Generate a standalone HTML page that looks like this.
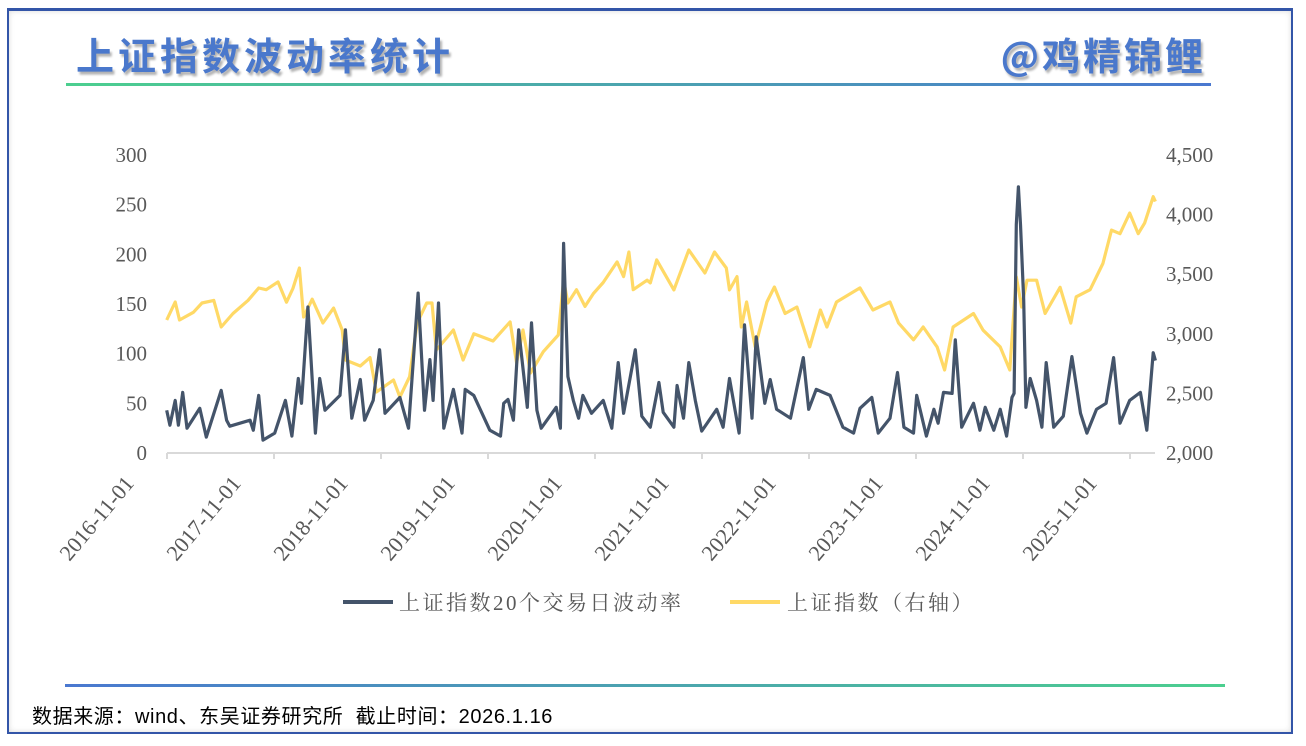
<!DOCTYPE html>
<html><head><meta charset="utf-8">
<style>
body{margin:0;width:1306px;height:746px;background:#fff;overflow:hidden;font-family:"Liberation Sans","Noto Sans CJK SC",sans-serif;}
#frame{position:absolute;left:7px;top:8px;width:1282px;height:721px;border:2px solid #3355a8;border-top-width:3px;box-shadow:0 0 6px rgba(0,0,0,.15) inset;}
#title{position:absolute;left:76px;top:26px;font:bold 38px "Noto Sans CJK SC",sans-serif;color:#4a78cc;letter-spacing:4px;text-shadow:2px 3px 2px rgba(0,0,0,.3);}
#brand{position:absolute;right:100px;top:26px;font:bold 38px "Noto Sans CJK SC",sans-serif;color:#4a78cc;letter-spacing:3px;text-shadow:2px 3px 2px rgba(0,0,0,.3);}
#topline{position:absolute;left:66px;top:83px;width:1145px;height:3px;background:linear-gradient(90deg,#4ccf8f,#4a78d0);}
#botline{position:absolute;left:65px;top:684px;width:1160px;height:3px;background:linear-gradient(90deg,#4a78d0,#4ccf8f);}
#source{position:absolute;left:32px;top:700px;font-size:20px;letter-spacing:0.6px;color:#000;font-family:"Liberation Sans","Noto Sans CJK SC",sans-serif;}
svg{position:absolute;left:0;top:0;}
</style></head><body>
<div id="frame"></div>
<div id="title">上证指数波动率统计</div>
<div id="brand">@鸡精锦鲤</div>
<div id="topline"></div>
<div id="botline"></div>
<div id="source">数据来源：wind、东吴证券研究所&nbsp; 截止时间：2026.1.16</div>
<svg id="chart" width="1306" height="746"></svg>
<script>
const volT=[2016.83,2016.86,2016.91,2016.94,2016.98,2017.02,2017.14,2017.20,2017.34,2017.39,2017.42,2017.61,2017.64,2017.69,2017.73,2017.84,2017.94,2018.00,2018.06,2018.09,2018.15,2018.22,2018.26,2018.31,2018.45,2018.50,2018.56,2018.64,2018.68,2018.76,2018.82,2018.87,2019.01,2019.09,2019.18,2019.24,2019.29,2019.32,2019.37,2019.42,2019.51,2019.59,2019.62,2019.70,2019.85,2019.95,2019.98,2020.02,2020.07,2020.12,2020.20,2020.24,2020.29,2020.33,2020.47,2020.51,2020.54,2020.58,2020.63,2020.68,2020.72,2020.80,2020.91,2020.99,2021.05,2021.10,2021.21,2021.27,2021.35,2021.43,2021.47,2021.57,2021.60,2021.66,2021.71,2021.77,2021.83,2021.97,2022.03,2022.09,2022.18,2022.23,2022.30,2022.34,2022.42,2022.47,2022.53,2022.66,2022.78,2022.83,2022.90,2023.03,2023.15,2023.25,2023.31,2023.42,2023.48,2023.59,2023.66,2023.72,2023.81,2023.84,2023.93,2024.00,2024.04,2024.09,2024.17,2024.20,2024.26,2024.37,2024.43,2024.48,2024.56,2024.62,2024.68,2024.73,2024.75,2024.77,2024.79,2024.81,2024.84,2024.86,2024.90,2024.96,2025.01,2025.05,2025.12,2025.21,2025.29,2025.37,2025.43,2025.52,2025.61,2025.68,2025.74,2025.83,2025.93,2025.99,2026.05,2026.07];
const volV=[43,28,53,28,61,25,45,16,63,33,27,33,23,58,13,20,53,17,75,50,147,20,75,43,58,124,35,74,33,53,104,40,56,25,161,43,94,53,151,25,64,20,64,58,23,17,50,54,33,124,46,131,43,25,46,25,211,77,53,35,58,40,53,25,91,40,104,37,26,71,41,26,68,35,91,53,22,44,26,75,20,129,35,117,50,74,44,35,96,44,64,58,26,20,45,56,20,35,81,26,20,58,17,44,30,61,60,114,26,50,23,46,23,44,17,56,60,230,268,230,154,46,75,53,26,91,26,37,97,40,20,44,50,96,30,53,61,23,101,93];
const idxT=[2016.83,2016.91,2016.95,2017.08,2017.16,2017.27,2017.34,2017.45,2017.59,2017.69,2017.76,2017.87,2017.95,2018.01,2018.07,2018.11,2018.19,2018.29,2018.39,2018.47,2018.50,2018.64,2018.73,2018.79,2018.95,2019.01,2019.10,2019.17,2019.26,2019.31,2019.35,2019.51,2019.60,2019.70,2019.88,2020.04,2020.10,2020.16,2020.23,2020.35,2020.49,2020.54,2020.58,2020.66,2020.74,2020.82,2020.91,2021.04,2021.10,2021.15,2021.19,2021.32,2021.35,2021.41,2021.57,2021.71,2021.86,2021.95,2022.06,2022.09,2022.16,2022.20,2022.25,2022.33,2022.44,2022.51,2022.61,2022.72,2022.84,2022.94,2023.00,2023.09,2023.31,2023.43,2023.59,2023.67,2023.81,2023.90,2024.03,2024.10,2024.18,2024.37,2024.46,2024.62,2024.71,2024.77,2024.82,2024.87,2024.96,2025.04,2025.18,2025.28,2025.33,2025.46,2025.58,2025.66,2025.74,2025.83,2025.91,2025.97,2026.05,2026.07];
const idxV=[3116,3267,3116,3180,3258,3280,3057,3170,3280,3384,3370,3435,3265,3380,3552,3141,3290,3091,3216,3032,2780,2730,2800,2512,2612,2470,2640,3091,3258,3258,2864,3032,2780,3000,2940,3100,2755,3032,2671,2850,2990,3452,3258,3370,3230,3340,3430,3603,3480,3686,3370,3450,3427,3620,3368,3703,3510,3686,3552,3368,3480,3057,3267,2890,3267,3393,3170,3225,2890,3200,3057,3267,3385,3200,3267,3090,2950,3057,2890,2696,3057,3170,3030,2890,2696,3477,3225,3450,3450,3170,3390,3090,3310,3370,3590,3870,3840,4013,3840,3930,4150,4110];
const leftTicks=[0,50,100,150,200,250,300];
const rightTicks=["2,000","2,500","3,000","3,500","4,000","4,500"];
const rightTickVals=[2000,2500,3000,3500,4000,4500];
const xTickLabels=["2016-11-01","2017-11-01","2018-11-01","2019-11-01","2020-11-01","2021-11-01","2022-11-01","2023-11-01","2024-11-01","2025-11-01"];
const xTickVals=[2016.833,2017.833,2018.833,2019.833,2020.833,2021.833,2022.833,2023.833,2024.833,2025.833];

const svg=document.getElementById('chart');const NS='http://www.w3.org/2000/svg';
const X0=167,PPY=107,Y0=453,H=298;
const xs=t=>X0+(t-2016.833)*PPY;
const yl=v=>Y0-v/300*H;
const yr=v=>Y0-(v-2000)/2500*H;
function mk(tag,attrs){const e=document.createElementNS(NS,tag);for(const k in attrs)e.setAttribute(k,attrs[k]);svg.appendChild(e);return e;}
const serif='"Liberation Serif","Noto Serif CJK SC",serif';
leftTicks.forEach(v=>{const t=mk('text',{x:147,y:yl(v)+7,'text-anchor':'end','font-size':21,fill:'#595959','font-family':serif});t.textContent=v;

});
rightTickVals.forEach((v,i)=>{const t=mk('text',{x:1166,y:yr(v)+7,'font-size':21,fill:'#595959','font-family':serif});t.textContent=rightTicks[i];

});
const ax=mk('line',{x1:X0,y1:Y0,x2:1155,y2:Y0,stroke:'#d9d9d9','stroke-width':2});


xTickVals.forEach((v,i)=>{const x=xs(v);
const tk=mk('line',{x1:x,y1:Y0,x2:x,y2:Y0+6,stroke:'#d9d9d9','stroke-width':2});


const ax_=x-32,ay_=484;
const t=mk('text',{x:ax_,y:ay_,'text-anchor':'end','font-size':22,fill:'#595959','font-family':serif,transform:`rotate(-50 ${ax_} ${ay_})`});t.textContent=xTickLabels[i];

});
function line(T,V,f,col,name){const d=T.map((t,i)=>(i?'L':'M')+xs(t).toFixed(1)+' '+f(V[i]).toFixed(1)).join('');
const p=mk('path',{d,fill:'none',stroke:col,'stroke-width':3.2,'stroke-linejoin':'round'});

}
line(idxT,idxV,yr,'#ffd966','index-line');
line(volT,volV,yl,'#44546a','volatility-line');
const l1=mk('line',{x1:343,y1:602,x2:393,y2:602,stroke:'#44546a','stroke-width':4});


const t1=mk('text',{x:399,y:610,'font-size':21,fill:'#595959','font-family':serif,'letter-spacing':2.5});t1.textContent='上证指数20个交易日波动率';


const l2=mk('line',{x1:730,y1:602,x2:780,y2:602,stroke:'#ffd966','stroke-width':4});


const t2=mk('text',{x:787,y:610,'font-size':21,fill:'#595959','font-family':serif,'letter-spacing':2.5});t2.textContent='上证指数（右轴）';


</script>
</body></html>
